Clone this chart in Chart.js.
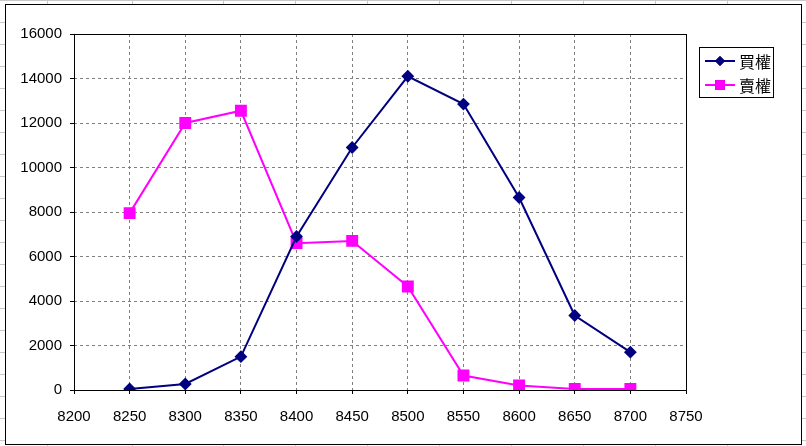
<!DOCTYPE html>
<html>
<head>
<meta charset="utf-8">
<script src="https://cdn.jsdelivr.net/npm/chart.js@4.4.1/dist/chart.umd.min.js"></script>
<style>
  body { margin: 0; background: #fff; }
  canvas { display: block; }
</style>
</head>
<body>
<canvas id="myChart" width="806" height="446"></canvas>
<script>
// strike prices
const strikes = [8250, 8300, 8350, 8400, 8450, 8500, 8550, 8600, 8650, 8700];
// 買權 (call) open interest
const callValues = [50, 270, 1500, 6900, 10900, 14100, 12850, 8650, 3350, 1700];
// 賣權 (put) open interest
const putValues = [7950, 12000, 12550, 6600, 6700, 4650, 650, 200, 50, 50];

const callLabel = "買權";
const putLabel = "賣權";

const xMin = 8200, xMax = 8750, xStep = 50;
const yMin = 0, yMax = 16000, yStep = 2000;

const tickFont = { family: "'Liberation Sans', Arial, sans-serif", size: 15 };

// excel sheet behind the chart object
const sheetCols = [47, 132, 223, 295, 367, 439, 511, 583, 655, 727];

const sheetPlugin = {
  id: "sheet",
  beforeDraw(chart) {
    const ctx = chart.ctx;
    const w = chart.width, h = chart.height;
    ctx.save();
    ctx.fillStyle = "#fff";
    ctx.fillRect(0, 0, w, h);
    ctx.strokeStyle = "#c8c8c8";
    ctx.lineWidth = 1;
    ctx.beginPath();
    for (let y = 0; y <= h; y += 22) {
      ctx.moveTo(0, y + 0.5);
      ctx.lineTo(w, y + 0.5);
    }
    sheetCols.forEach((x) => {
      ctx.moveTo(x + 0.5, 0);
      ctx.lineTo(x + 0.5, h);
    });
    ctx.stroke();
    ctx.fillStyle = "#fff";
    ctx.fillRect(5, 4, 796, 440);
    ctx.strokeStyle = "#000";
    ctx.strokeRect(5.5, 4.5, 796, 440);
    ctx.restore();
  },
  afterDraw(chart) {
    const ctx = chart.ctx;
    const a = chart.chartArea;
    ctx.save();
    ctx.strokeStyle = "#000";
    ctx.lineWidth = 1;
    ctx.strokeRect(a.left + 0.5, a.top + 0.5, a.right - a.left, a.bottom - a.top);

    // legend box
    ctx.strokeRect(699.5, 47.5, 74, 50);
    const rows = [61, 85];
    chart.data.datasets.forEach((ds, i) => {
      const y = rows[i];
      ctx.strokeStyle = ds.borderColor;
      ctx.lineWidth = 2;
      ctx.beginPath();
      ctx.moveTo(705, y);
      ctx.lineTo(735, y);
      ctx.stroke();
      Chart.helpers.drawPoint(ctx, {
        pointStyle: ds.pointStyle,
        radius: ds.pointRadius,
        borderWidth: 0,
      }, 720, y);
      ctx.fillStyle = ds.backgroundColor;
      ctx.fill();
      ctx.fillStyle = "#000";
      ctx.font = "16px 'Noto Sans CJK TC'";
      ctx.textBaseline = "middle";
      ctx.textAlign = "left";
      ctx.fillText(ds.label, 739, y + 1);
    });
    ctx.restore();
  },
};

new Chart(document.getElementById("myChart"), {
  type: "scatter",
  data: {
    datasets: [
      {
        label: callLabel,
        data: strikes.map((s, i) => ({ x: s, y: callValues[i] })),
        borderColor: "#000080",
        backgroundColor: "#000080",
        borderWidth: 2,
        showLine: true,
        tension: 0,
        pointStyle: "rectRot",
        pointRadius: 5,
        pointHoverRadius: 5,
      },
      {
        label: putLabel,
        data: strikes.map((s, i) => ({ x: s, y: putValues[i] })),
        borderColor: "#ff00ff",
        backgroundColor: "#ff00ff",
        borderWidth: 2,
        showLine: true,
        tension: 0,
        pointStyle: "rect",
        pointRadius: 7,
        pointHoverRadius: 7,
      },
    ],
  },
  options: {
    responsive: false,
    animation: false,
    devicePixelRatio: 1,
    layout: { padding: { top: 34, right: 120, left: 0, bottom: 0 } },
    plugins: {
      legend: { display: false },
      tooltip: { enabled: false },
    },
    scales: {
      x: {
        type: "linear",
        min: xMin,
        max: xMax,
        afterFit: (scale) => { scale.height = 56; },
        ticks: {
          stepSize: xStep,
          color: "#000",
          font: tickFont,
          padding: 14,
          maxRotation: 0,
          callback: (v) => String(v),
        },
        grid: {
          color: "#808080",
          tickLength: 4,
          tickColor: "#000",
          tickBorderDash: [],
        },
        border: { display: false, dash: [3, 3] },
      },
      y: {
        type: "linear",
        min: yMin,
        max: yMax,
        afterFit: (scale) => { scale.width = 74; },
        ticks: {
          stepSize: yStep,
          color: "#000",
          font: tickFont,
          padding: 8,
          callback: (v) => String(v),
        },
        grid: {
          color: "#808080",
          tickLength: 4,
          tickColor: "#000",
          tickBorderDash: [],
        },
        border: { display: false, dash: [3, 3] },
      },
    },
  },
  plugins: [sheetPlugin],
});
</script>
</body>
</html>
